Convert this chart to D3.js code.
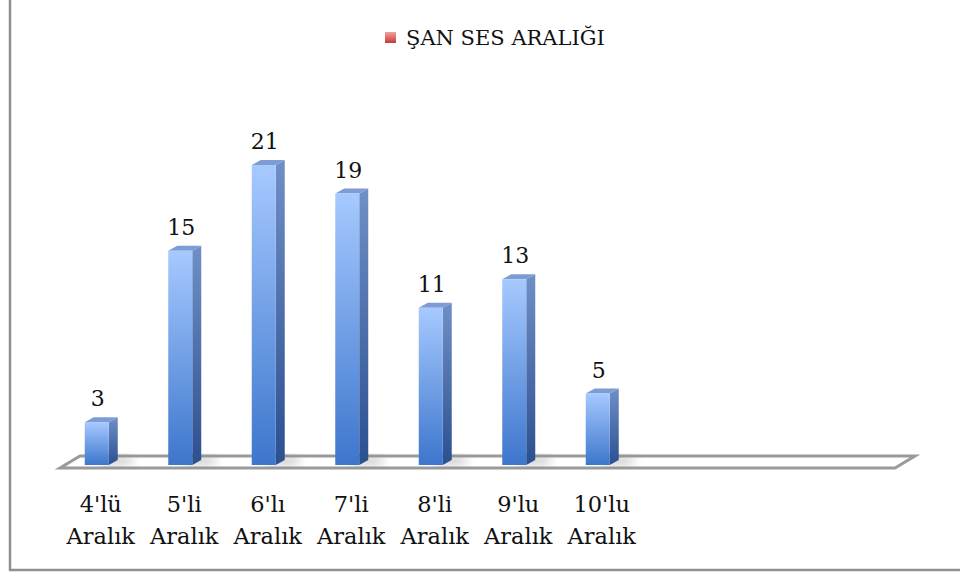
<!DOCTYPE html>
<html>
<head>
<meta charset="utf-8">
<script src="https://cdn.jsdelivr.net/npm/d3@7/dist/d3.min.js"></script>
<style>
  body { margin: 0; background: #fff; }
  svg { display: block; }
  text { font-family: "DejaVu Serif", serif; fill: #111; }
</style>
</head>
<body>
<svg id="chart" width="960" height="575"></svg>
<script>
// data
const categories = ["4'lü", "5'li", "6'lı", "7'li", "8'li", "9'lu", "10'lu"];
const categoryLine2 = 'Aralık';
const values = [3, 15, 21, 19, 11, 13, 5];
const seriesName = 'ŞAN SES ARALIĞI';
const emptySlots = 3; // the floor runs on past the last category

const width = 960;
const height = 575;
const svg = d3.select('#chart');
const defs = svg.append('defs');

const frontGrad = defs.append('linearGradient')
    .attr('id', 'front').attr('x1', 0).attr('y1', 0).attr('x2', 0).attr('y2', 1);
frontGrad.append('stop').attr('offset', '0%').attr('stop-color', '#a6c9ff');
frontGrad.append('stop').attr('offset', '100%').attr('stop-color', '#3d76cc');

const sideGrad = defs.append('linearGradient')
    .attr('id', 'side').attr('x1', 0).attr('y1', 0).attr('x2', 0).attr('y2', 1);
sideGrad.append('stop').attr('offset', '0%').attr('stop-color', '#6f8fc6');
sideGrad.append('stop').attr('offset', '100%').attr('stop-color', '#2c4f90');

const legendGrad = defs.append('linearGradient')
    .attr('id', 'legendRed').attr('x1', 0).attr('y1', 0).attr('x2', 0).attr('y2', 1);
legendGrad.append('stop').attr('offset', '0%').attr('stop-color', '#f3a0a0');
legendGrad.append('stop').attr('offset', '100%').attr('stop-color', '#c83a3a');

defs.append('filter').attr('id', 'blur')
    .attr('x', '-50%').attr('y', '-50%').attr('width', '200%').attr('height', '200%')
    .append('feGaussianBlur').attr('stdDeviation', 4);

// outer frame (only left and bottom edges are visible)
svg.append('path')
    .attr('d', `M10 0 L10 570 L${width} 570`)
    .attr('fill', 'none')
    .attr('stroke', '#8f8f8f')
    .attr('stroke-width', 2.5);

// legend
const legend = svg.append('g').attr('transform', 'translate(385,32)');
legend.append('rect')
    .attr('width', 11).attr('height', 11)
    .attr('fill', 'url(#legendRed)');
legend.append('text')
    .attr('x', 21).attr('y', 13)
    .attr('font-size', 21)
    .text(seriesName);

// scales
const slots = d3.range(categories.length + emptySlots);
const x = d3.scaleBand().domain(slots).range([60, 895]).padding(0);
const y = d3.scaleLinear().domain([0, 21]).range([465, 165]);

// floor (3d plane)
const floorDx = 20;
const floorDy = -12;
const floorY = 468;
const [fx0, fx1] = x.range();
svg.append('path')
    .attr('d', `M${fx0} ${floorY} L${fx1} ${floorY} L${fx1 + floorDx} ${floorY + floorDy} L${fx0 + floorDx} ${floorY + floorDy} Z`)
    .attr('fill', '#fff')
    .attr('stroke', '#9a9a9a')
    .attr('stroke-width', 3)
    .attr('stroke-linejoin', 'miter');

const barW = 24;
const depthX = 9;
const depthY = -5;
const barLeft = i => x(i) + x.bandwidth() / 2 - 17;

// soft shadows on the floor
svg.append('g').selectAll('ellipse')
    .data(values)
    .enter()
    .append('ellipse')
    .attr('cx', (d, i) => barLeft(i) + barW + 8)
    .attr('cy', y(0) - 4)
    .attr('rx', 18)
    .attr('ry', 4)
    .attr('fill', '#888')
    .attr('opacity', 0.45)
    .attr('filter', 'url(#blur)');

const bars = svg.append('g').selectAll('g')
    .data(values)
    .enter()
    .append('g');

// side face
bars.append('path')
    .attr('d', (d, i) => {
        const l = barLeft(i) + barW;
        return `M${l} ${y(d)} L${l + depthX} ${y(d) + depthY} L${l + depthX} ${y(0) + depthY} L${l} ${y(0)} Z`;
    })
    .attr('fill', 'url(#side)');

// top face
bars.append('path')
    .attr('d', (d, i) => {
        const l = barLeft(i);
        return `M${l} ${y(d)} L${l + depthX} ${y(d) + depthY} L${l + barW + depthX} ${y(d) + depthY} L${l + barW} ${y(d)} Z`;
    })
    .attr('fill', '#7d9cd3');

// front face
bars.append('rect')
    .attr('x', (d, i) => barLeft(i))
    .attr('y', d => y(d))
    .attr('width', barW)
    .attr('height', d => y(0) - y(d))
    .attr('fill', 'url(#front)');

// value labels
bars.append('text')
    .attr('x', (d, i) => barLeft(i) + barW / 2 + 1)
    .attr('y', d => y(d) - 16)
    .attr('text-anchor', 'middle')
    .attr('font-size', 22)
    .text(d => d);

// category labels
const catLabels = svg.append('g').selectAll('text')
    .data(categories)
    .enter()
    .append('text')
    .attr('text-anchor', 'middle')
    .attr('font-size', 22.5)
    .attr('x', (d, i) => x(i) + x.bandwidth() / 2 - 1);
catLabels.append('tspan').attr('y', 512).text(d => d);
catLabels.append('tspan')
    .attr('x', (d, i) => x(i) + x.bandwidth() / 2 - 1)
    .attr('y', 544)
    .text(categoryLine2);
</script>
</body>
</html>
